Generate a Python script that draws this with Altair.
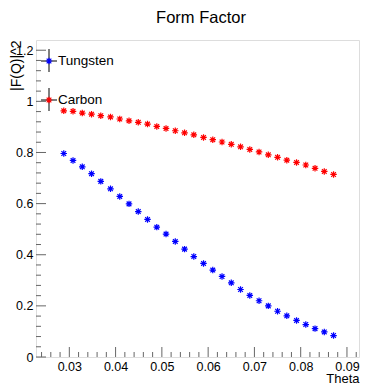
import altair as alt
import pandas as pd

# ---- data ----
theta = [0.0288, 0.0308, 0.0328, 0.0348, 0.0368, 0.0389, 0.0409, 0.0429, 0.0449, 0.0469,
         0.0489, 0.0509, 0.0529, 0.0549, 0.0569, 0.0590, 0.0610, 0.0630, 0.0650, 0.0670,
         0.0690, 0.0710, 0.0730, 0.0750, 0.0770, 0.0791, 0.0811, 0.0831, 0.0851, 0.0871]
tungsten = [0.796, 0.769, 0.744, 0.717, 0.687, 0.658, 0.628, 0.599, 0.569, 0.538,
            0.508, 0.481, 0.452, 0.422, 0.393, 0.366, 0.340, 0.315, 0.290, 0.264,
            0.241, 0.220, 0.200, 0.179, 0.161, 0.143, 0.127, 0.111, 0.098, 0.084]
carbon = [0.963, 0.961, 0.954, 0.950, 0.944, 0.939, 0.931, 0.924, 0.918, 0.911,
          0.902, 0.894, 0.885, 0.877, 0.869, 0.859, 0.850, 0.841, 0.832, 0.822,
          0.812, 0.802, 0.791, 0.781, 0.770, 0.761, 0.751, 0.738, 0.726, 0.714]
materials = ["Tungsten", "Carbon"]
colors = ["#0000ff", "#ff0000"]
title_text = "Form Factor"

x_major = [0.03, 0.04, 0.05, 0.06, 0.07, 0.08, 0.09]
x_minor = [0.024, 0.026, 0.028, 0.032, 0.034, 0.036, 0.038, 0.042, 0.044, 0.046, 0.048,
           0.052, 0.054, 0.056, 0.058, 0.062, 0.064, 0.066, 0.068, 0.072, 0.074, 0.076,
           0.078, 0.082, 0.084, 0.086, 0.088, 0.092]
y_major = [0.0, 0.2, 0.4, 0.6, 0.8, 1.0, 1.2]
y_minor = [0.04, 0.08, 0.12, 0.16, 0.24, 0.28, 0.32, 0.36, 0.44, 0.48, 0.52, 0.56,
           0.64, 0.68, 0.72, 0.76, 0.84, 0.88, 0.92, 0.96, 1.04, 1.08, 1.12, 1.16]

# ---- layout / style ----
W, H = 323, 317
FONT = "Liberation Sans"
FRAME = "#666666"
STAR = "M-1,0L1,0M0,-1L0,1M-0.72,-0.72L0.72,0.72M-0.72,0.72L0.72,-0.72"

rows = []
for t, w, c in zip(theta, tungsten, carbon):
    rows.append({"theta": t, "ff": w, "material": "Tungsten"})
    rows.append({"theta": t, "ff": c, "material": "Carbon"})
df = pd.DataFrame(rows)

xs = alt.Scale(domain=[0.0228, 0.0926], nice=False, zero=False)
ys = alt.Scale(domain=[0, 1.24], nice=False, zero=False)

xaxis = alt.Axis(values=x_major, format=".2f", ticks=False, tickSize=0, domain=False, grid=False,
                 labelFont=FONT, labelFontSize=12.5, labelColor="black", labelPadding=3,
                 labelFlush=False, labelOverlap=False,
                 title="Theta", titleFont=FONT, titleFontSize=13, titleFontWeight="normal",
                 titleColor="black", titleAlign="right", titleAnchor="end",
                 titleX=W, titleY=25, titleBaseline="alphabetic")
yaxis = alt.Axis(values=y_major, format="~g", ticks=False, tickSize=0, domain=False, grid=False,
                 labelFont=FONT, labelFontSize=12.5, labelColor="black", labelPadding=3,
                 labelFlush=False, labelOverlap=False,
                 title="|F(Q)|^2", titleFont=FONT, titleFontSize=14, titleFontWeight="normal",
                 titleColor="black", titleAngle=270, titleAlign="right",
                 titleX=-16, titleY=0, titleBaseline="alphabetic")

points = alt.Chart(df).mark_point(shape=STAR, filled=False, size=42, strokeWidth=1.2, opacity=1).encode(
    x=alt.X("theta:Q", scale=xs, axis=xaxis),
    y=alt.Y("ff:Q", scale=ys, axis=yaxis),
    color=alt.Color("material:N", scale=alt.Scale(domain=materials, range=colors), legend=None),
)

def xticks(vals, length):
    d = pd.DataFrame({"theta": vals})
    return alt.Chart(d).mark_rule(color=FRAME, strokeWidth=1).encode(
        x=alt.X("theta:Q", scale=xs, axis=xaxis), y=alt.value(H), y2=alt.value(H - length))

def yticks(vals, length):
    d = pd.DataFrame({"ff": vals})
    return alt.Chart(d).mark_rule(color=FRAME, strokeWidth=1).encode(
        y=alt.Y("ff:Q", scale=ys, axis=yaxis), x=alt.value(0), x2=alt.value(length))

layers = [xticks(x_minor, 5), xticks(x_major, 10), yticks(y_minor, 5), yticks(y_major, 10), points]

# ---- hand-drawn ROOT-style legend ----
one = pd.DataFrame({"a": [0]})
leg_y = [21, 60]
for name, col, ly in zip(materials, colors, leg_y):
    layers.append(alt.Chart(one).mark_rule(color="black", strokeWidth=1).encode(
        x=alt.value(5), x2=alt.value(21), y=alt.value(ly)))
    layers.append(alt.Chart(one).mark_rule(color="black", strokeWidth=1).encode(
        x=alt.value(13), y=alt.value(ly - 12), y2=alt.value(ly + 11)))
    layers.append(alt.Chart(one).mark_point(shape=STAR, filled=False, size=42, strokeWidth=1.2,
                                            opacity=1, color=col).encode(
        x=alt.value(13), y=alt.value(ly)))
    layers.append(alt.Chart(one).mark_text(text=name, font=FONT, fontSize=13.5, color="black",
                                           align="left", baseline="middle").encode(
        x=alt.value(22), y=alt.value(ly)))

# ---- canvas title (ROOT style, centred over the pad) ----
layers.append(alt.Chart(one).mark_text(text=title_text, font=FONT, fontSize=16.5, color="black",
                                       align="center", baseline="alphabetic").encode(
    x=alt.value(165), y=alt.value(-17)))

chart = alt.layer(*layers).properties(
    width=W, height=H,
    autosize=alt.AutoSizeParams(type="none"),
    padding={"left": 28, "top": 32, "right": 1, "bottom": 28},
).configure_view(stroke=FRAME, strokeWidth=1).configure(background="white")

chart.save("out.html", embed_options={"renderer": "svg", "actions": False})
